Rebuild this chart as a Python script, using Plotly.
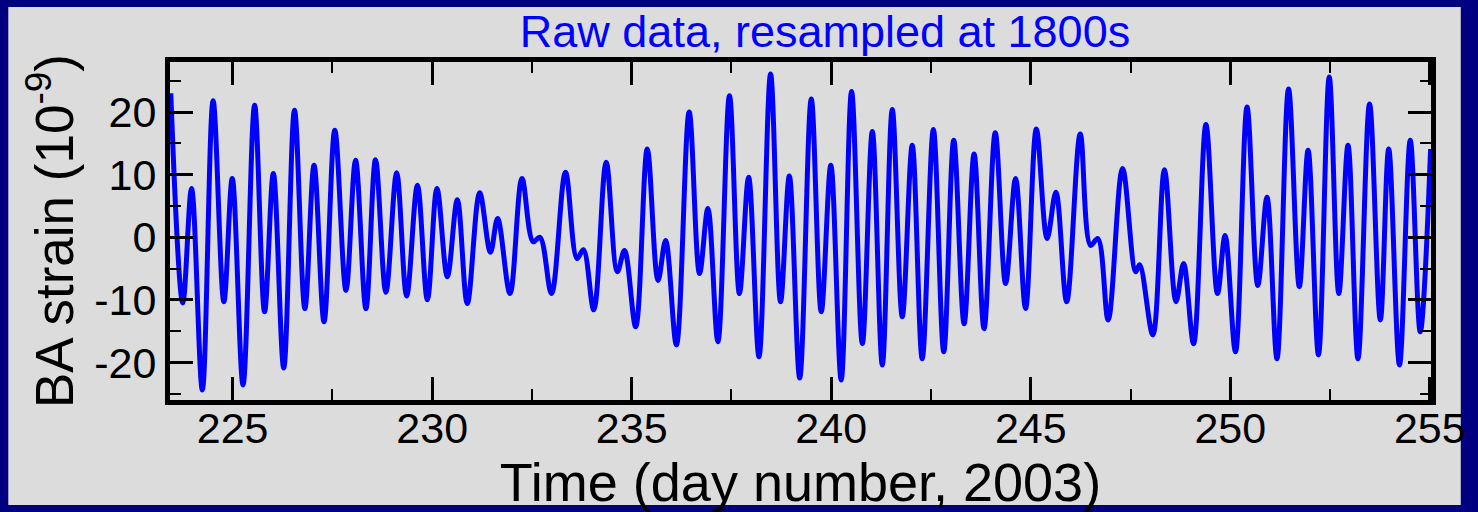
import plotly.graph_objects as go

# Extrema of the resampled BA strain record (day number, 2003 ; strain in 1e-9)
time_days = [
    223.45, 223.75, 223.97, 224.24, 224.51, 224.78, 224.99, 225.26, 225.55, 225.80,
    226.02, 226.28, 226.55, 226.81, 227.04, 227.29, 227.56, 227.84, 228.08, 228.34,
    228.58, 228.84, 229.11, 229.36, 229.63, 229.88, 230.12, 230.38, 230.63, 230.88,
    231.19, 231.46, 231.64, 231.95, 232.25, 232.53, 232.70, 232.99, 233.34, 233.63,
    233.79, 234.05, 234.36, 234.64, 234.82, 235.10, 235.39, 235.66, 235.85, 236.12,
    236.44, 236.70, 236.91, 237.16, 237.45, 237.70, 237.93, 238.19, 238.48, 238.73,
    238.95, 239.21, 239.50, 239.75, 239.99, 240.25, 240.51, 240.78, 241.03, 241.28,
    241.53, 241.78, 242.03, 242.28, 242.56, 242.82, 243.07, 243.33, 243.58, 243.83,
    244.11, 244.37, 244.62, 244.87, 245.14, 245.41, 245.63, 245.90, 246.24, 246.50,
    246.68, 246.94, 247.30, 247.63, 247.73, 248.06, 248.35, 248.64, 248.83, 249.08,
    249.39, 249.68, 249.87, 250.13, 250.42, 250.69, 250.92, 251.17, 251.46, 251.73,
    251.95, 252.21, 252.48, 252.72, 252.95, 253.20, 253.49, 253.76, 253.97, 254.24,
    254.51, 254.76, 255.02,
]
strain = [
    23.0, -10.5, 7.8, -24.4, 21.8, -10.3, 9.4, -23.6, 21.1, -11.9,
    10.2, -20.9, 20.3, -11.4, 11.5, -13.5, 17.1, -8.5, 12.3, -11.4,
    12.4, -8.8, 10.3, -9.4, 8.3, -10.0, 7.8, -6.3, 6.0, -10.6,
    7.1, -2.4, 3.0, -9.0, 9.4, -0.7, 0.0, -9.0, 10.4, -3.4,
    -2.0, -11.6, 12.0, -5.5, -2.1, -14.3, 14.1, -6.9, -0.5, -17.2,
    20.0, -5.8, 4.6, -16.7, 22.6, -9.0, 9.6, -19.1, 26.1, -10.3,
    9.8, -22.5, 22.1, -11.9, 11.5, -22.8, 23.3, -17.0, 16.9, -20.4,
    20.4, -12.7, 14.7, -19.4, 17.2, -18.3, 15.5, -13.8, 13.3, -14.6,
    16.7, -7.4, 9.4, -11.4, 17.3, -0.2, 7.2, -10.3, 16.5, -1.3,
    -0.2, -13.2, 11.0, -5.5, -4.4, -15.6, 10.8, -10.3, -4.2, -17.0,
    18.0, -9.0, 0.3, -18.3, 20.8, -7.7, 6.4, -19.4, 23.7, -7.9,
    13.9, -18.8, 25.6, -9.0, 14.7, -19.4, 21.3, -13.2, 14.1, -20.4,
    15.5, -15.1, 14.1,
]

x_ticks = [225, 230, 235, 240, 245, 250, 255]
y_ticks = [-20, -10, 0, 10, 20]

W, H = 1478, 512
ML, MR, MT, MB = 170, 37, 62, 112
PW, PH = W - ML - MR, H - MT - MB
FONT = "Liberation Sans, Arial, Helvetica, sans-serif"
NAVY = "#000080"
GREY = "#dcdcdc"
BORDER = 7

fig = go.Figure()
fig.add_trace(go.Scatter(
    x=time_days, y=strain, mode="lines",
    line=dict(color="#0000ff", width=5, shape="spline", smoothing=1.0),
    showlegend=False, hoverinfo="skip",
))

# light panel inside navy border
fig.add_shape(
    type="rect", xref="paper", yref="paper", layer="below",
    x0=(BORDER - ML) / PW, x1=(W - BORDER - ML) / PW,
    y0=(MT + PH - (H - BORDER)) / PH, y1=(MT + PH - BORDER) / PH,
    fillcolor=GREY, line=dict(width=0),
)

axis_common = dict(
    showgrid=False, zeroline=False, showline=True, linecolor="black", linewidth=5,
    mirror="ticks", ticks="inside", ticklen=23, tickwidth=2.5, tickcolor="black",
    tickfont=dict(family=FONT, size=43, color="black"),
)

fig.update_xaxes(
    range=[223.43, 255.03], tickmode="array", tickvals=x_ticks,
    ticktext=[str(v) for v in x_ticks],
    minor=dict(dtick=2.5, tick0=225, ticks="inside", ticklen=11, tickwidth=2, tickcolor="black"),
    title=dict(text="Time (day number, 2003)", font=dict(family=FONT, size=54, color="black"), standoff=0),
    **axis_common,
)
try:
    fig.update_xaxes(ticklabelstandoff=-14)
except Exception:
    pass

fig.update_yaxes(
    range=[-26, 28], tickmode="array", tickvals=y_ticks,
    ticktext=[str(v) for v in y_ticks],
    minor=dict(dtick=5, tick0=0, ticks="inside", ticklen=11, tickwidth=2, tickcolor="black"),
    title=dict(text="BA strain (10<sup>-9</sup>)", font=dict(family=FONT, size=53, color="black"), standoff=5),
    **axis_common,
)

fig.update_layout(
    width=W, height=H, autosize=False,
    margin=dict(l=ML, r=MR, t=MT, b=MB, pad=0),
    paper_bgcolor=NAVY, plot_bgcolor=GREY,
    title=dict(text="Raw data, resampled at 1800s", font=dict(family=FONT, size=45, color="#0000ff"),
               x=825 / W, xanchor="center", xref="container", y=1 - 31 / H, yanchor="middle", yref="container"),
)

fig.write_html("out.html")
